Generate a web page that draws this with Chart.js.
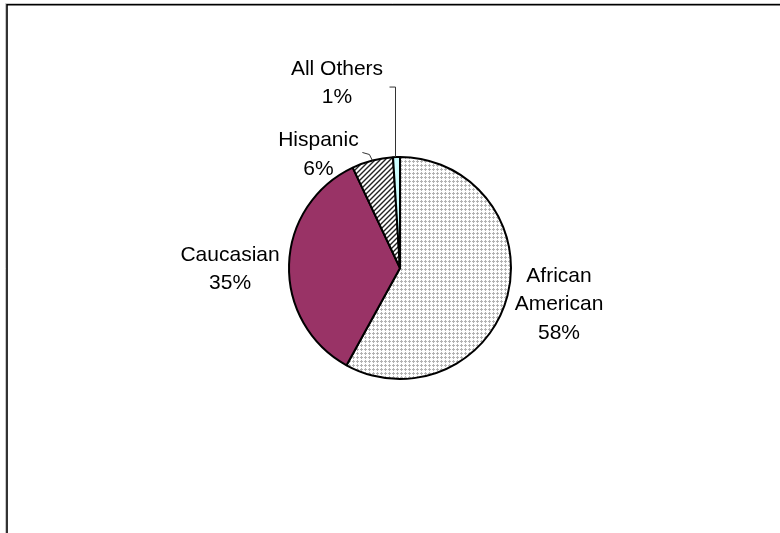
<!DOCTYPE html>
<html>
<head>
<meta charset="utf-8">
<script src="https://cdn.jsdelivr.net/npm/chart.js@4/dist/chart.umd.min.js"></script>
<style>
  html, body { margin: 0; padding: 0; background: #fff; }
  #wrap { width: 780px; height: 533px; }
</style>
</head>
<body>
<div id="wrap"><canvas id="pieChart" width="780" height="533"></canvas></div>
<script>
// data
const categories = ["African American", "Caucasian", "Hispanic", "All Others"];
const values = [58, 35, 6, 1];

// where each label block sits, relative to the outer edge of its slice (dx, dy of block centre)
const labelOffsets = [[51.5, 8], [-59, 3.5], [-54, -7], [-59.5, -75]];

// fill patterns like the old excel ones
function dotPattern() {
  var c = document.createElement("canvas");
  c.width = 4; c.height = 4;
  var g = c.getContext("2d");
  g.fillStyle = "#fff";
  g.fillRect(0, 0, 4, 4);
  g.fillStyle = "#b3b3b3";
  g.fillRect(1, 0, 1, 1);
  g.fillRect(0, 1, 3, 1);
  g.fillRect(1, 2, 1, 1);
  return g.createPattern(c, "repeat");
}

function hatchPattern() {
  var c = document.createElement("canvas");
  c.width = 5; c.height = 5;
  var g = c.getContext("2d");
  g.fillStyle = "#fff";
  g.fillRect(0, 0, 5, 5);
  g.strokeStyle = "#222";
  g.lineWidth = 1.4;
  g.beginPath();
  g.moveTo(-1, 6); g.lineTo(6, -1);
  g.moveTo(-1, 1); g.lineTo(1, -1);
  g.moveTo(4, 6); g.lineTo(6, 4);
  g.stroke();
  return g.createPattern(c, "repeat");
}

// frame round the plot, only top and left show
const framePlugin = {
  id: "frame",
  beforeDraw(chart) {
    const ctx = chart.ctx;
    ctx.save();
    ctx.fillStyle = "#fff";
    ctx.fillRect(0, 0, chart.width, chart.height);
    ctx.strokeStyle = "#c8c8c8";
    ctx.lineWidth = 1;
    ctx.beginPath();
    ctx.moveTo(5.5, 533); ctx.lineTo(5.5, 3.5); ctx.lineTo(780, 3.5);
    ctx.stroke();
    ctx.strokeStyle = "#000";
    ctx.lineWidth = 1.6;
    ctx.beginPath();
    ctx.moveTo(7, 533); ctx.lineTo(7, 4.8); ctx.lineTo(780, 4.8);
    ctx.stroke();
    ctx.restore();
  }
};

// labels outside the slices + the two leader lines
const labelPlugin = {
  id: "outLabels",
  afterDatasetsDraw(chart) {
    const ctx = chart.ctx;
    const arcs = chart.getDatasetMeta(0).data;
    ctx.save();
    ctx.font = "21px 'Liberation Sans', Arial, sans-serif";
    ctx.fillStyle = "#000";
    ctx.textAlign = "center";
    ctx.textBaseline = "middle";
    arcs.forEach((arc, i) => {
      const p = arc.getProps(["x", "y", "startAngle", "endAngle", "outerRadius"], true);
      const mid = (p.startAngle + p.endAngle) / 2;
      const ex = p.x + Math.cos(mid) * p.outerRadius;
      const ey = p.y + Math.sin(mid) * p.outerRadius;
      const lines = (i === 0 ? categories[i].split(" ") : [categories[i]]);
      lines.push(values[i] + "%");
      const lh = 28.5;
      const cx = ex + labelOffsets[i][0];
      const cy = ey + labelOffsets[i][1];
      const top = cy - (lines.length - 1) * lh / 2;
      lines.forEach((t, k) => ctx.fillText(t, cx, top + k * lh + 1));

      // leader lines for the two thin slices
      ctx.strokeStyle = "#333";
      ctx.lineWidth = 1;
      if (i === 3) {
        ctx.beginPath();
        ctx.moveTo(ex - 1, ey);
        ctx.lineTo(ex - 1, cy + 5);
        ctx.lineTo(ex - 7, cy + 5);
        ctx.stroke();
      }
      if (i === 2) {
        ctx.beginPath();
        ctx.moveTo(ex, ey);
        ctx.lineTo(ex - 3, ey - 6);
        ctx.lineTo(ex - 10, ey - 8);
        ctx.stroke();
      }
    });
    ctx.restore();
  }
};

const ctxPie = document.getElementById("pieChart");
const pie = new Chart(ctxPie, {
  type: "pie",
  data: {
    labels: categories,
    datasets: [{
      data: values,
      backgroundColor: [dotPattern(), "#993366", hatchPattern(), "#ccffff"],
      borderColor: "#000",
      borderWidth: 2,
      hoverOffset: 0
    }]
  },
  options: {
    responsive: false,
    animation: false,
    events: [],
    layout: { padding: { left: 288, right: 268, top: 156, bottom: 153 } },
    plugins: {
      legend: { display: false },
      tooltip: { enabled: false }
    }
  },
  plugins: [framePlugin, labelPlugin]
});
</script>
</body>
</html>
